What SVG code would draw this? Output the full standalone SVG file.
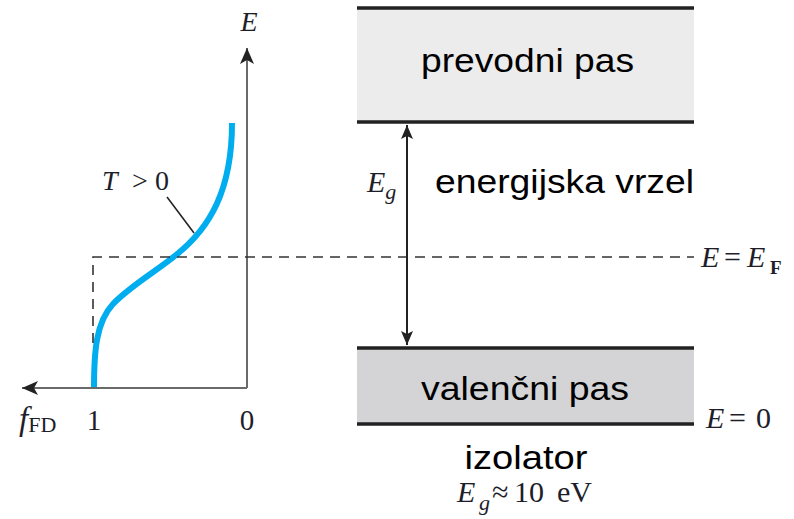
<svg xmlns="http://www.w3.org/2000/svg" width="794" height="519" viewBox="0 0 794 519">
<style>
.sans{font-family:"Liberation Sans",Arial,sans-serif;fill:#000;}
.math{font-family:"Liberation Serif","Times New Roman",serif;fill:#1e1e2a;}
.it{font-style:italic;}
.axis{stroke:#6a6a6a;stroke-width:2;fill:none;}
.band{stroke:#222;stroke-width:3.5;}
.dash{stroke:#333;stroke-width:1.6;stroke-dasharray:10 7;fill:none;}
</style>
<defs>
<marker id="ahGray" markerUnits="userSpaceOnUse" markerWidth="18" markerHeight="14" refX="16" refY="7" orient="auto">
<path d="M0,0 L16,7 L0,14 L4,7 Z" fill="#222"/>
</marker>
<marker id="ahBlack" markerUnits="userSpaceOnUse" markerWidth="16" markerHeight="12" refX="14" refY="6" orient="auto-start-reverse">
<path d="M0,0 L14,6 L0,12 L3,6 Z" fill="#222"/>
</marker>
</defs>

<g id="conduction-band">
<rect x="357" y="8" width="337" height="114" fill="#ececec"/>
<line class="band" x1="357" y1="8" x2="694" y2="8"/>
<line class="band" x1="357" y1="122" x2="694" y2="122"/>
<text class="sans" x="527.5" y="72" font-size="34" text-anchor="middle" textLength="213" lengthAdjust="spacingAndGlyphs">prevodni pas</text>
</g>

<g id="valence-band">
<rect x="357" y="348" width="337" height="76" fill="#d4d4d6"/>
<line class="band" x1="357" y1="348" x2="694" y2="348"/>
<line class="band" x1="357" y1="424" x2="694" y2="424"/>
<text class="sans" x="525" y="400" font-size="34" text-anchor="middle" textLength="208" lengthAdjust="spacingAndGlyphs">valenčni pas</text>
</g>

<g id="gap-label">
<text class="sans" x="435" y="193" font-size="34" textLength="259" lengthAdjust="spacingAndGlyphs">energijska vrzel</text>
<text class="math it" x="367" y="192" font-size="30">E<tspan font-size="22" dy="7">g</tspan></text>
</g>

<g id="insulator-label">
<text class="sans" x="526" y="469" font-size="34" text-anchor="middle" textLength="123" lengthAdjust="spacingAndGlyphs">izolator</text>
<text class="math" y="502" font-size="30"><tspan class="it" x="457">E</tspan><tspan class="it" font-size="22" x="479" dy="8">g</tspan><tspan x="492" dy="-8">≈</tspan><tspan x="514">10</tspan><tspan x="557">eV</tspan></text>
</g>

<g id="fermi-label">
<text class="math" y="267" font-size="30"><tspan class="it" x="701">E</tspan><tspan x="724">=</tspan><tspan class="it" x="747">E</tspan><tspan font-size="19" font-weight="bold" x="770" dy="7">F</tspan></text>
</g>

<g id="zero-label">
<text class="math" y="428" font-size="30"><tspan class="it" x="706">E</tspan><tspan x="729">=</tspan><tspan x="756">0</tspan></text>
</g>

<g id="fd-plot">
<text class="math it" x="249" y="31" font-size="28" text-anchor="middle">E</text>
<text class="math" y="190" font-size="28"><tspan class="it" x="102">T</tspan><tspan x="132">&gt;</tspan><tspan x="155">0</tspan></text>
<text class="math" x="94" y="430" font-size="29" text-anchor="middle">1</text>
<text class="math" x="247" y="430" font-size="29" text-anchor="middle">0</text>
<text class="math" x="19" y="430" font-size="33"><tspan class="it">f</tspan><tspan font-size="22" dy="2">FD</tspan></text>
<path d="M94,388 C94,352 96,322 113,304 C130,286 158,270 176,255 C210,228 232,190 232,123" fill="none" stroke="#00aeef" stroke-width="6"/>
</g>

<g id="connectors">
<line class="axis" x1="247" y1="388" x2="247" y2="48" marker-end="url(#ahGray)"/>
<line class="axis" x1="247" y1="388" x2="22" y2="388" marker-end="url(#ahGray)"/>
<line x1="167" y1="197" x2="194" y2="233" stroke="#222" stroke-width="1.6"/>
<path class="dash" d="M93,343 L93,257 L694,257"/>
<line x1="407" y1="125" x2="407" y2="345" stroke="#222" stroke-width="2" marker-start="url(#ahBlack)" marker-end="url(#ahBlack)"/>
</g>
</svg>
